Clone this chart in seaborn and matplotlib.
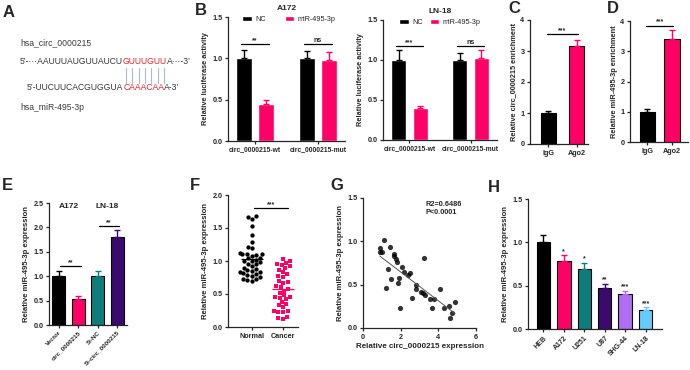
import numpy as np
import pandas as pd
import matplotlib
matplotlib.use("Agg")
import matplotlib.pyplot as plt
from matplotlib.container import BarContainer
import seaborn as sns

# ---------------- data ----------------
# B: dual luciferase
b_constructs = ["circ_0000215-wt", "circ_0000215-mut"]
b_groups = ["NC", "miR-495-3p"]
b_a172_vals = [1.00, 0.45, 1.00, 0.98]      # (wt NC, wt miR, mut NC, mut miR)
b_a172_errs = [0.10, 0.05, 0.09, 0.10]
b_a172_sig = ["**", "ns"]
b_ln18_vals = [1.00, 0.40, 1.00, 1.03]
b_ln18_errs = [0.12, 0.03, 0.09, 0.10]
b_ln18_sig = ["***", "ns"]

# C / D: RIP
rip_cats = ["IgG", "Ago2"]
c_vals = [1.00, 3.15]
c_errs = [0.08, 0.20]
d_vals = [1.00, 3.40]
d_errs = [0.10, 0.30]

# E
e_cats = ["Vector", "circ_0000215", "Si-NC", "Si-circ_0000215"]
e_vals = [1.00, 0.54, 1.00, 1.80]
e_errs = [0.10, 0.06, 0.10, 0.14]

# F: tissues
f_normal = [1.68, 1.66, 1.64, 1.53, 1.40, 1.29, 1.21, 1.19, 1.12, 1.11, 1.10, 1.10,
            1.09, 1.08, 1.05, 1.04, 1.02, 1.00, 1.00, 0.98, 0.96, 0.95, 0.93, 0.90,
            0.88, 0.86, 0.85, 0.84, 0.83, 0.82, 0.80, 0.79, 0.78, 0.76, 0.73, 0.71,
            0.70, 0.72]
f_cancer = [1.03, 1.00, 0.97, 0.95, 0.94, 0.92, 0.90, 0.87, 0.84, 0.80, 0.78, 0.76,
            0.70, 0.68, 0.66, 0.62, 0.58, 0.55, 0.52, 0.48, 0.46, 0.45, 0.44, 0.42,
            0.38, 0.35, 0.33, 0.30, 0.25, 0.24, 0.23, 0.22, 0.15, 0.13, 0.12, 0.60]

# G: correlation
g_circ = [0.89, 0.89, 1.01, 1.10, 1.42, 1.65, 1.65, 1.73, 1.83, 2.08, 2.19, 2.40,
          2.47, 1.33, 1.51, 1.90, 1.87, 1.21, 3.26, 2.79, 2.79, 3.08, 3.20, 3.29,
          2.58, 3.56, 3.79, 4.09, 1.98, 3.65, 4.31, 4.59, 4.89, 4.72, 4.63]
g_mir = [0.92, 0.88, 0.88, 1.02, 0.94, 0.85, 0.83, 0.80, 0.76, 0.70, 0.65, 0.61,
         0.64, 0.68, 0.56, 0.58, 0.52, 0.46, 0.81, 0.50, 0.45, 0.42, 0.40, 0.38,
         0.35, 0.34, 0.34, 0.45, 0.23, 0.23, 0.23, 0.25, 0.30, 0.17, 0.12]

# H: cell lines
h_cats = ["HEB", "A172", "U251", "U87", "SHG-44", "LN-18"]
h_vals = [1.00, 0.78, 0.69, 0.47, 0.40, 0.22]
h_errs = [0.09, 0.07, 0.07, 0.05, 0.04, 0.03]
h_sig = ["", "*", "*", "**", "***", "***"]

BLACK = "#000000"
PINK = "#FF0066"
TEAL = "#0E7C7B"
PURPLE = "#3A0A6E"
LAV = "#B06EF2"
SKY = "#66CCFF"

# ---------------- style ----------------
sns.set_style("ticks")
plt.rcParams['font.family'] = ['Liberation Sans', 'DejaVu Sans']
plt.rcParams['font.weight'] = 'bold'
plt.rcParams['axes.labelweight'] = 'bold'
plt.rcParams['axes.linewidth'] = 0.9
plt.rcParams['xtick.major.width'] = 0.9
plt.rcParams['ytick.major.width'] = 0.9
plt.rcParams['xtick.major.size'] = 2.5
plt.rcParams['ytick.major.size'] = 2.5

fig = plt.figure(figsize=(6.9, 3.7), dpi=100)


def px_axes(x0, y0, x1, y1):
    # pixel box (left, top, right, bottom) -> axes
    return fig.add_axes([x0 / 690, 1 - y1 / 370, (x1 - x0) / 690, (y1 - y0) / 370])


def tidy(ax, ylabel, ymax, yticks, ysize=5.6):
    sns.despine(ax=ax)
    ax.set_ylim(0, ymax)
    ax.set_yticks(yticks)
    ax.set_ylabel(ylabel, fontsize=ysize, labelpad=2)
    ax.set_xlabel("")
    ax.tick_params(labelsize=5.2, pad=1.5)


def add_err(ax, errs, colors):
    k = 0
    centers = []
    bars = [c for c in ax.containers if isinstance(c, BarContainer)]
    for cont in bars:
        for p in cont:
            x = p.get_x() + p.get_width() / 2
            h = p.get_height()
            ax.errorbar(x, h, yerr=[[0], [errs[k]]], fmt='none', ecolor=colors[k],
                        capsize=2.5, elinewidth=1, capthick=1)
            centers.append((x, h + errs[k]))
            k += 1
    return centers


def sig(ax, x0, x1, y, txt):
    ax.plot([x0, x1], [y, y], color='k', lw=0.9)
    ax.text((x0 + x1) / 2, y, txt, ha='center', va='bottom', fontsize=5)


def simple_bars(ax, cats, vals, errs, colors, width):
    sns.barplot(x=cats, y=vals, hue=cats, palette=colors, legend=False, width=width,
                errorbar=None, ax=ax, linewidth=0.8, edgecolor=colors, saturation=1)
    return add_err(ax, errs, colors)


def luciferase(ax, vals, errs, marks, title, colsp, anchor):
    df = pd.DataFrame({"construct": np.repeat(b_constructs, 2),
                       "group": b_groups * 2, "val": vals})
    sns.barplot(data=df, x="construct", y="val", hue="group", hue_order=b_groups,
                palette=[BLACK, PINK], width=0.7, gap=0.3, errorbar=None,
                saturation=1, ax=ax)
    # containers are per hue level: reorder errors to match
    errs_o = [errs[0], errs[2], errs[1], errs[3]]
    cols = [BLACK, BLACK, PINK, PINK]
    cen = add_err(ax, errs_o, cols)
    for i in range(2):
        sig(ax, cen[i][0] - 0.05, cen[i + 2][0] + 0.05, 1.17, marks[i])
    ax.set_xlim(-0.43, 1.43)
    tidy(ax, "Relative luciferase activity", 1.5, [0, 0.5, 1.0, 1.5], ysize=5.3)
    ax.set_yticklabels(["0.0", "0.5", "1.0", "1.5"])
    ax.tick_params(axis='x', labelsize=4.9)
    ax.set_title(title, fontsize=6, fontweight='bold', pad=5)
    ax.legend(ncol=2, loc='center', bbox_to_anchor=(anchor, 0.98), frameon=False,
              fontsize=5.2, handlelength=1.3, handleheight=0.75, columnspacing=colsp,
              handletextpad=0.5, prop=dict(weight='normal', size=5.2))


# ---------------- A: sequence pairing ----------------
def seq_line(x, y, parts, size=6.2):
    r = fig.canvas.get_renderer()
    boxes = []
    for txt, col in parts:
        t = fig.text(x / 690, 1 - y / 370, txt, color=col, fontsize=size,
                     fontweight='normal', va='center', ha='left')
        bb = t.get_window_extent(renderer=r)
        boxes.append(bb)
        x = bb.x1
    return boxes


GREY = "#3a3a3a"
RED = "#E8262A"
fig.text(20 / 690, 1 - 43 / 370, "hsa_circ_0000215", fontsize=6.2, fontweight='normal',
         color=GREY, va='center')
bx = seq_line(20, 62, [("5\u2019-\u00b7\u00b7\u00b7AAUUUAUGUUAUCU", GREY),
                       ("GUUUGUU", RED), ("A\u00b7\u00b7\u00b7-3\u2019", GREY)])
seq_line(27, 88, [("5\u2019-UUCUUCACGUGGUA", GREY), ("CAAACAA", RED),
                  ("A-3\u2019", GREY)])
fig.text(20 / 690, 1 - 107 / 370, "hsa_miR-495-3p", fontsize=6.2, fontweight='normal',
         color=GREY, va='center')
red = bx[1]
step = (red.x1 - red.x0) / 7
for i in range(7):
    xc = (red.x0 + step * (i + 0.5)) / 690
    fig.add_artist(plt.Line2D([xc, xc], [1 - 68 / 370, 1 - 83 / 370],
                              color="#a9bccc", lw=0.8))

# ---------------- B ----------------
axB1 = px_axes(228, 17, 345, 141)
luciferase(axB1, b_a172_vals, b_a172_errs, b_a172_sig, "A172", 2.6, 0.52)
axB2 = px_axes(383, 20, 497, 140)
luciferase(axB2, b_ln18_vals, b_ln18_errs, b_ln18_sig, "LN-18", 1.0, 0.50)

# ---------------- C ----------------
axC = px_axes(530, 20, 588, 144)
cen = simple_bars(axC, rip_cats, c_vals, c_errs, [BLACK, PINK], 0.55)
sig(axC, cen[0][0] - 0.05, cen[1][0] + 0.05, 3.55, "***")
axC.set_xlim(-0.65, 1.4)
tidy(axC, "Relative circ_0000215 enrichment", 4, [0, 1, 2, 3, 4], ysize=5.3)

# ---------------- D ----------------
axD = px_axes(630, 21, 688, 142)
cen = simple_bars(axD, rip_cats, d_vals, d_errs, [BLACK, PINK], 0.62)
sig(axD, cen[0][0] - 0.05, cen[1][0] + 0.05, 3.85, "***")
axD.set_xlim(-0.7, 1.65)
tidy(axD, "Relative miR-495-3p enrichment", 4, [0, 1, 2, 3, 4], ysize=5.3)

# ---------------- E ----------------
axE = px_axes(49, 203, 127, 325)
e_cols = [BLACK, PINK, TEAL, PURPLE]
cen = simple_bars(axE, e_cats, e_vals, e_errs, e_cols, 0.66)
sig(axE, cen[0][0] + 0.05, cen[1][0] + 0.15, 1.2, "**")
sig(axE, cen[2][0] + 0.05, cen[3][0] + 0.1, 2.02, "**")
axE.set_xlim(-0.5, 3.5)
tidy(axE, "Relative miR-495-3p expression", 2.5, [0, 0.5, 1.0, 1.5, 2.0, 2.5])
axE.set_yticklabels(["0.0", "0.5", "1.0", "1.5", "2.0", "2.5"])
axE.set_xticks(range(4))
axE.set_xticklabels(e_cats, rotation=45, ha='right', rotation_mode='anchor',
                    fontsize=4.5)
axE.tick_params(axis='x', pad=1)
axE.text((cen[0][0] + cen[1][0]) / 2, 2.42, "A172", ha='center', va='center',
         fontsize=6)
axE.text((cen[2][0] + cen[3][0]) / 2, 2.42, "LN-18", ha='center', va='center',
         fontsize=6)

# ---------------- F ----------------
axF = px_axes(228, 195, 298, 327)
df_n = pd.DataFrame({"grp": "Normal", "val": f_normal})
df_c = pd.DataFrame({"grp": "Cancer", "val": f_cancer})
order = ["Normal", "Cancer"]
sns.swarmplot(data=df_n, x="grp", y="val", order=order, color=BLACK, size=3.1,
              marker='o', ax=axF)
sns.swarmplot(data=df_c, x="grp", y="val", order=order, color=PINK, size=3.3,
              marker='s', ax=axF)
for i, (d, col) in enumerate([(f_normal, BLACK), (f_cancer, PINK)]):
    axF.hlines(np.mean(d), i - 0.36, i + 0.36, color=col, lw=0.9)
sig(axF, 0.05, 1.15, 1.8, "***")
axF.set_xlim(-0.77, 1.48)
tidy(axF, "Relative miR-495-3p expression", 2.0, [0, 0.5, 1.0, 1.5, 2.0])
axF.set_yticklabels(["0.0", "0.5", "1.0", "1.5", "2.0"])

# ---------------- G ----------------
axG = px_axes(363, 198, 476, 328)
sns.regplot(x=g_circ, y=g_mir, ci=None, ax=axG, color=BLACK,
            scatter_kws=dict(s=14, linewidths=0),
            line_kws=dict(color="#555555", lw=0.7))
axG.set_xlim(0, 6)
axG.set_xticks([0, 2, 4, 6])
tidy(axG, "Relative miR-495-3p expression", 1.5, [0, 0.5, 1.0, 1.5])
axG.set_yticklabels(["0.0", "0.5", "1.0", "1.5"])
axG.set_xlabel("Relative circ_0000215 expression", fontsize=5.8, labelpad=2)
axG.text(3.3, 1.38, "R2=0.6486\nP<0.0001", fontsize=5.3, va='center', ha='left',
         linespacing=1.3)

# ---------------- H ----------------
axH = px_axes(528, 199, 662, 329)
h_cols = [BLACK, PINK, TEAL, PURPLE, LAV, SKY]
cen = simple_bars(axH, h_cats, h_vals, h_errs, h_cols, 0.66)
for (x, top), s in zip(cen, h_sig):
    if s:
        axH.text(x, top + 0.005, s, ha='center', va='bottom', fontsize=5)
axH.set_xlim(-0.75, 5.8)
tidy(axH, "Relative miR-495-3p expression", 1.5, [0, 0.5, 1.0, 1.5])
axH.set_yticklabels(["0.0", "0.5", "1.0", "1.5"])
axH.set_xticks(range(6))
axH.set_xticklabels(h_cats, rotation=45, ha='right', rotation_mode='anchor',
                    fontsize=5)

# ---------------- panel letters ----------------
for lab, x, y in [("A", 3, 5), ("B", 195, 3), ("C", 508, 1), ("D", 607, 1),
                  ("E", 2, 178), ("F", 190, 178), ("G", 330, 178), ("H", 488, 180)]:
    fig.text(x / 690, 1 - y / 370, lab, fontsize=12, fontweight='bold', va='top',
             ha='left')

fig.savefig("out.png", dpi=100)
